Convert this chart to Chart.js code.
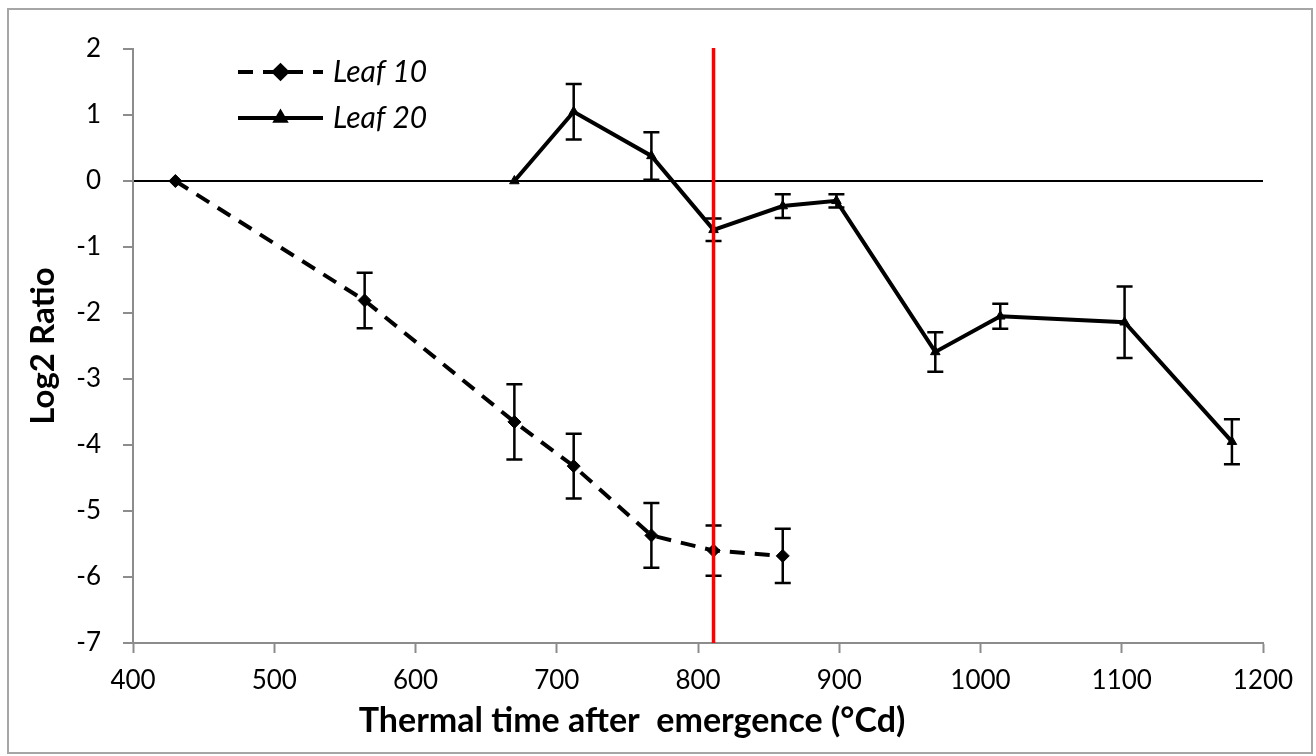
<!DOCTYPE html>
<html>
<head>
<meta charset="utf-8">
<script src="https://cdn.jsdelivr.net/npm/chart.js@4/dist/chart.umd.min.js"></script>
<style>
  html, body { margin: 0; padding: 0; background: #ffffff; }
  #wrap { position: relative; width: 1316px; height: 756px; }
</style>
</head>
<body>
<div id="wrap"><canvas id="c" width="1316" height="756"></canvas></div>
<script>
// ---- data ----
const seriesNames = ['Leaf 10', 'Leaf 20'];
const leaf10X   = [430, 564, 670, 712, 767, 811, 860];
const leaf10Y   = [0, -1.81, -3.65, -4.32, -5.37, -5.60, -5.68];
const leaf10Err = [0, 0.42, 0.57, 0.49, 0.49, 0.38, 0.41];
const leaf20X   = [670, 712, 767, 811, 860, 898, 968, 1014, 1102, 1178];
const leaf20Y   = [0, 1.05, 0.38, -0.74, -0.38, -0.30, -2.59, -2.05, -2.14, -3.95];
const leaf20Err = [0, 0.42, 0.36, 0.17, 0.18, 0.10, 0.30, 0.19, 0.54, 0.34];
const xTicks = [400, 500, 600, 700, 800, 900, 1000, 1100, 1200];
const yTicks = [2, 1, 0, -1, -2, -3, -4, -5, -6, -7];
const markerX = 811;
const xTitle = 'Thermal time after  emergence (°Cd)';
const yTitle = 'Log2 Ratio';

function pts(xs, ys) { return xs.map((x, i) => ({ x: x, y: ys[i] })); }

const FONT = 'Lato';

const errorBars = {
  id: 'errorBars',
  afterDatasetsDraw(chart) {
    const ctx = chart.ctx;
    const xs = chart.scales.x, ys = chart.scales.y;
    chart.data.datasets.forEach((ds) => {
      if (!ds.errors) return;
      ctx.save();
      ctx.strokeStyle = '#000';
      ctx.lineWidth = 2.5;
      ds.data.forEach((p, i) => {
        const e = ds.errors[i];
        if (!e) return;
        const px = xs.getPixelForValue(p.x);
        const top = ys.getPixelForValue(p.y + e);
        const bot = ys.getPixelForValue(p.y - e);
        ctx.beginPath();
        ctx.moveTo(px, top); ctx.lineTo(px, bot);
        ctx.moveTo(px - 8, top); ctx.lineTo(px + 8, top);
        ctx.moveTo(px - 8, bot); ctx.lineTo(px + 8, bot);
        ctx.stroke();
      });
      ctx.restore();
    });
  }
};

const refLine = {
  id: 'refLine',
  afterDatasetsDraw(chart) {
    const ctx = chart.ctx;
    const xs = chart.scales.x, a = chart.chartArea;
    const px = xs.getPixelForValue(markerX);
    ctx.save();
    ctx.strokeStyle = '#ff0000';
    ctx.lineWidth = 3.5;
    ctx.beginPath();
    ctx.moveTo(px, a.top - 1); ctx.lineTo(px, a.bottom);
    ctx.stroke();
    ctx.restore();
  }
};

const frameAndLegend = {
  id: 'frameAndLegend',
  beforeDraw(chart) {
    const ctx = chart.ctx;
    ctx.save();
    ctx.fillStyle = '#ffffff';
    ctx.fillRect(0, 0, chart.width, chart.height);
    ctx.restore();
  },
  afterDraw(chart) {
    const ctx = chart.ctx;
    const a = chart.chartArea;
    // outer frame
    ctx.save();
    ctx.strokeStyle = '#a6a6a6';
    ctx.lineWidth = 2;
    ctx.strokeRect(8, 9, chart.width - 12, chart.height - 12);
    ctx.restore();
    // x axis title
    ctx.save();
    ctx.fillStyle = '#000';
    ctx.font = 'bold 34px ' + FONT;
    ctx.textAlign = 'center';
    ctx.textBaseline = 'middle';
    ctx.fillText(xTitle, 632, 721);
    ctx.restore();
    // legend
    const lx0 = a.left + 105, lx1 = a.left + 190;
    const rows = [72, 118];
    chart.data.datasets.forEach((ds, i) => {
      const y = rows[i];
      ctx.save();
      ctx.strokeStyle = ds.borderColor;
      ctx.lineWidth = ds.borderWidth;
      ctx.setLineDash(ds.borderDash || []);
      ctx.beginPath();
      ctx.moveTo(lx0, y); ctx.lineTo(lx1, y);
      ctx.stroke();
      ctx.setLineDash([]);
      ctx.fillStyle = ds.pointBackgroundColor;
      ctx.strokeStyle = ds.pointBorderColor;
      Chart.helpers.drawPoint(ctx, {
        pointStyle: ds.pointStyle, rotation: 0,
        radius: ds.pointRadius, borderWidth: ds.pointBorderWidth
      }, (lx0 + lx1) / 2, y);
      ctx.fillStyle = '#000';
      ctx.font = 'italic 30px ' + FONT;
      ctx.textAlign = 'left';
      ctx.textBaseline = 'middle';
      ctx.fillText(ds.label, lx1 + 10, y);
      ctx.restore();
    });
  }
};

new Chart(document.getElementById('c'), {
  type: 'scatter',
  data: {
    datasets: [
      {
        label: seriesNames[0],
        data: pts(leaf10X, leaf10Y),
        errors: leaf10Err,
        showLine: true,
        borderColor: '#000',
        borderWidth: 4,
        borderDash: [15, 10],
        pointStyle: 'rectRot',
        pointRadius: 6.5,
        pointBorderWidth: 1,
        pointBackgroundColor: '#000',
        pointBorderColor: '#000'
      },
      {
        label: seriesNames[1],
        data: pts(leaf20X, leaf20Y),
        errors: leaf20Err,
        showLine: true,
        borderColor: '#000',
        borderWidth: 4,
        pointStyle: 'triangle',
        pointRadius: 5.5,
        pointBorderWidth: 1,
        pointBackgroundColor: '#000',
        pointBorderColor: '#000'
      }
    ]
  },
  options: {
    responsive: false,
    animation: false,
    layout: { padding: { left: 0, top: 49, right: 53, bottom: 0 } },
    plugins: {
      legend: { display: false },
      tooltip: { enabled: false }
    },
    scales: {
      x: {
        type: 'linear',
        min: 400, max: 1200,
        afterBuildTicks(s) { s.ticks = xTicks.map(v => ({ value: v })); },
        afterFit(s) { s.height = 113; },
        border: { display: true, color: '#8c8c8c', width: 2 },
        grid: { display: true, drawOnChartArea: false, drawTicks: true, tickLength: 10, tickColor: '#8c8c8c', tickWidth: 2 },
        ticks: { color: '#000', font: { family: FONT, size: 26 }, padding: 12, maxRotation: 0, callback: (v) => String(v) },
        title: { display: false }
      },
      y: {
        type: 'linear',
        min: -7, max: 2,
        afterBuildTicks(s) { s.ticks = yTicks.map(v => ({ value: v })); },
        afterFit(s) { s.width = 133; },
        border: { display: true, color: '#8c8c8c', width: 2 },
        grid: {
          display: true, drawOnChartArea: true, drawTicks: true, tickLength: 10, tickWidth: 2,
          tickColor: '#8c8c8c',
          color: (c) => (c.tick && c.tick.value === 0 ? '#000' : 'rgba(0,0,0,0)'),
          lineWidth: 2
        },
        ticks: { color: '#000', font: { family: FONT, size: 26 }, padding: 22, callback: (v) => String(v) },
        title: { display: true, text: yTitle, color: '#000', font: { family: FONT, size: 33, weight: 'bold' }, padding: { top: 24, bottom: 0 } }
      }
    }
  },
  plugins: [frameAndLegend, errorBars, refLine]
});
</script>
</body>
</html>
